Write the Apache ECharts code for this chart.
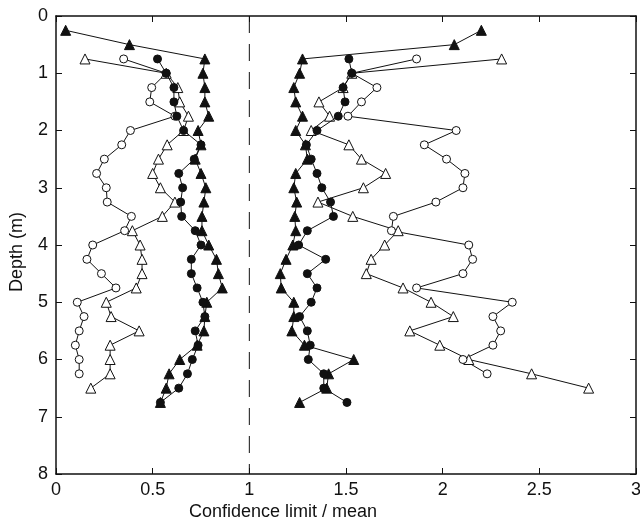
<!DOCTYPE html>
<html>
<head>
<meta charset="utf-8">
<script src="https://cdn.jsdelivr.net/npm/echarts@6/dist/echarts.min.js"></script>
<style>
  html, body { margin: 0; padding: 0; background: #fff; }
  #chart { width: 640px; height: 529px; }
</style>
</head>
<body>
<div id="chart"></div>
<script>
// Sampling depths (m), every 0.25 m
const depths = [0.25, 0.5, 0.75, 1.0, 1.25, 1.5, 1.75, 2.0, 2.25, 2.5, 2.75, 3.0, 3.25, 3.5,
  3.75, 4.0, 4.25, 4.5, 4.75, 5.0, 5.25, 5.5, 5.75, 6.0, 6.25, 6.5, 6.75];

// Lower confidence limits / mean
const lowerFilledTri = [0.05, 0.38, 0.77, 0.76, 0.77, 0.77, 0.79, 0.735, 0.75, 0.72, 0.75, 0.775, 0.765, 0.755,
  0.755, 0.79, 0.83, 0.84, 0.86, 0.78, 0.77, 0.765, 0.73, 0.64, 0.585, 0.57, 0.54];
const lowerFilledCirc = [null, null, 0.525, 0.57, 0.61, 0.61, 0.625, 0.66, 0.75, 0.715, 0.635, 0.655, 0.645, 0.65,
  0.72, 0.75, 0.70, 0.70, 0.73, 0.76, 0.77, 0.72, 0.735, 0.705, 0.68, 0.635, 0.54];
const lowerOpenTri = [null, null, 0.15, 0.57, 0.63, 0.64, 0.685, 0.66, 0.575, 0.53, 0.50, 0.54, 0.615, 0.55,
  0.395, 0.435, 0.445, 0.445, 0.415, 0.26, 0.285, 0.43, 0.28, 0.28, 0.28, 0.18, null];
const lowerOpenCirc = [null, null, 0.35, 0.57, 0.495, 0.485, 0.615, 0.385, 0.34, 0.25, 0.21, 0.26, 0.265, 0.39,
  0.355, 0.19, 0.16, 0.235, 0.31, 0.11, 0.145, 0.12, 0.10, 0.12, 0.12, null, null];

// Upper confidence limits / mean
const upperFilledTri = [2.20, 2.06, 1.275, 1.26, 1.23, 1.24, 1.275, 1.24, 1.29, 1.30, 1.24, 1.23, 1.245, 1.235,
  1.24, 1.225, 1.19, 1.16, 1.165, 1.23, 1.23, 1.22, 1.285, 1.54, 1.41, 1.40, 1.26];
const upperFilledCirc = [null, null, 1.515, 1.53, 1.485, 1.495, 1.46, 1.35, 1.295, 1.32, 1.35, 1.375, 1.42, 1.435,
  1.30, 1.255, 1.395, 1.30, 1.35, 1.32, 1.26, 1.30, 1.315, 1.305, 1.385, 1.385, 1.505];
const upperOpenTri = [null, null, 2.305, 1.53, 1.485, 1.36, 1.415, 1.32, 1.515, 1.58, 1.705, 1.59, 1.355, 1.535,
  1.77, 1.70, 1.63, 1.605, 1.795, 1.94, 2.055, 1.83, 1.985, 2.135, 2.46, 2.755, null];
const upperOpenCirc = [null, null, 1.865, 1.53, 1.66, 1.58, 1.51, 2.07, 1.905, 2.02, 2.115, 2.105, 1.965, 1.745,
  1.735, 2.135, 2.155, 2.105, 1.865, 2.36, 2.26, 2.30, 2.26, 2.105, 2.23, null, null];

// Reference ratio (limit equal to mean)
const unityRatio = 1;

const xTicks = { min: 0, max: 3, interval: 0.5 };
const yTicks = { min: 0, max: 8, interval: 1 };

const INK = '#111';
const FONT = 'Liberation Sans, Arial, Helvetica, sans-serif';

function pairs(values) {
  const out = [];
  values.forEach((v, i) => { if (v !== null) out.push([v, depths[i]]); });
  return out;
}

function profile(values, kind) {
  const filled = kind.startsWith('filled');
  const tri = kind.endsWith('Tri');
  return {
    type: 'line',
    data: pairs(values),
    symbol: tri ? 'triangle' : 'circle',
    symbolSize: tri ? 10 : 8,
    showSymbol: true,
    animation: false,
    silent: true,
    z: filled ? 4 : 3,
    lineStyle: { color: INK, width: 1 },
    itemStyle: {
      color: filled ? INK : '#fff',
      borderColor: INK,
      borderWidth: 1
    }
  };
}

const axisLine = { show: true, onZero: false, lineStyle: { color: INK, width: 1.5 } };
const tick = { show: true, inside: true, length: 6, lineStyle: { color: INK, width: 1 } };
const label = { color: INK, fontSize: 18, fontFamily: FONT };

const chart = echarts.init(document.getElementById('chart'));
chart.setOption({
  backgroundColor: '#fff',
  animation: false,
  grid: { left: 56, right: 4, top: 16, bottom: 55, containLabel: false, outerBoundsMode: 'none' },
  xAxis: [
    { type: 'value', position: 'bottom', ...xTicks, axisLine, axisTick: tick,
      axisLabel: { ...label, margin: 7 }, splitLine: { show: false } },
    { type: 'value', position: 'top', ...xTicks, axisLine, axisTick: tick,
      axisLabel: { show: false }, splitLine: { show: false } }
  ],
  yAxis: [
    { type: 'value', position: 'left', inverse: true, ...yTicks, axisLine, axisTick: tick,
      axisLabel: { ...label, margin: 8 }, splitLine: { show: false } },
    { type: 'value', position: 'right', inverse: true, ...yTicks, axisLine, axisTick: tick,
      axisLabel: { show: false }, splitLine: { show: false } }
  ],
  graphic: [
    { type: 'text', x: 283, y: 512,
      style: { text: 'Confidence limit / mean', fill: INK, font: '18px ' + FONT,
        align: 'center', verticalAlign: 'middle' } },
    { type: 'text', x: 17, y: 252, rotation: Math.PI / 2,
      style: { text: 'Depth (m)', fill: INK, font: '18px ' + FONT,
        align: 'center', verticalAlign: 'middle' } }
  ],
  series: [
    {
      type: 'line',
      data: [[unityRatio, yTicks.min], [unityRatio, yTicks.max]],
      showSymbol: false, symbol: 'none', silent: true, z: 1,
      lineStyle: { color: INK, width: 1, type: [17, 11] }
    },
    profile(lowerOpenTri, 'openTri'),
    profile(lowerOpenCirc, 'openCirc'),
    profile(upperOpenTri, 'openTri'),
    profile(upperOpenCirc, 'openCirc'),
    profile(lowerFilledTri, 'filledTri'),
    profile(upperFilledTri, 'filledTri'),
    profile(lowerFilledCirc, 'filledCirc'),
    profile(upperFilledCirc, 'filledCirc')
  ]
});
</script>
</body>
</html>
